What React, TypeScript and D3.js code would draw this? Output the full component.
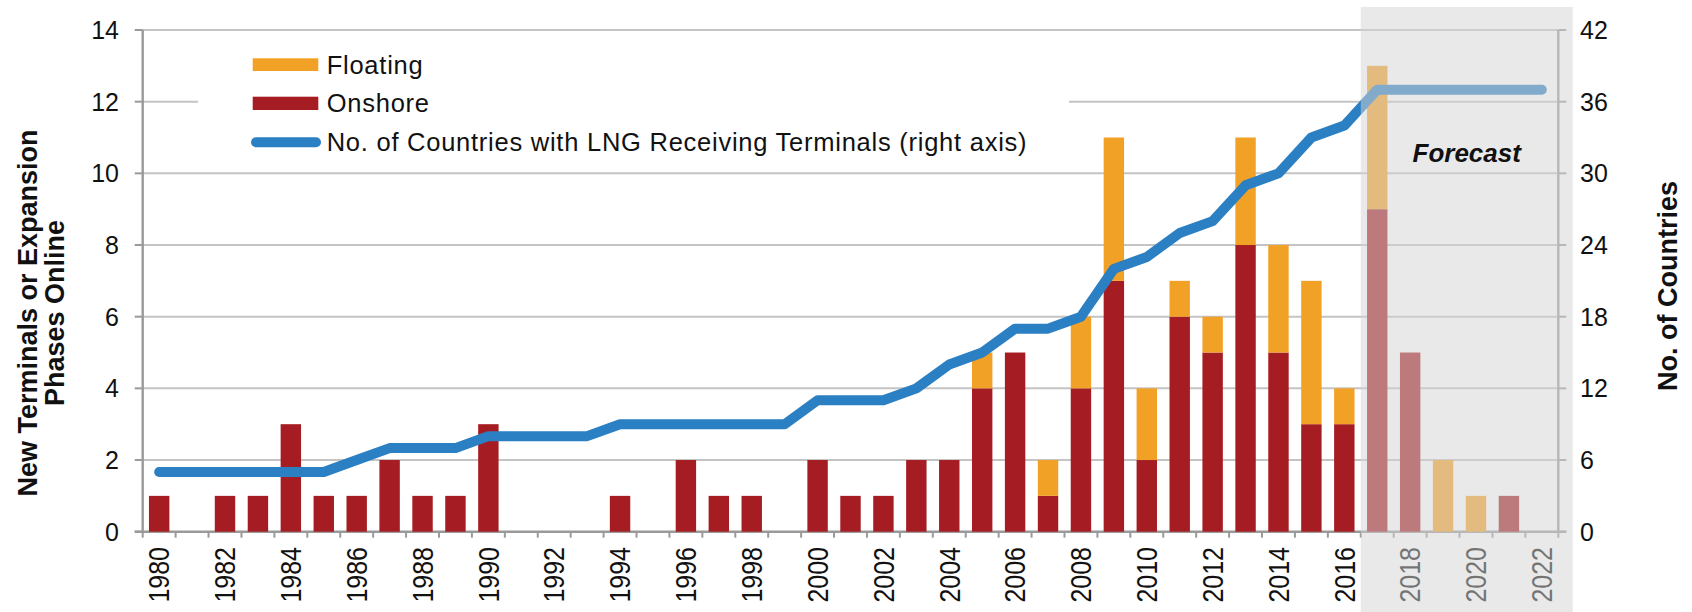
import React from 'react';
import * as d3 from 'd3';

const years = [
  1980, 1981, 1982, 1983, 1984, 1985, 1986, 1987, 1988, 1989,
  1990, 1991, 1992, 1993, 1994, 1995, 1996, 1997, 1998, 1999,
  2000, 2001, 2002, 2003, 2004, 2005, 2006, 2007, 2008, 2009,
  2010, 2011, 2012, 2013, 2014, 2015, 2016, 2017, 2018, 2019,
  2020, 2021, 2022,
];
const onshore = [
  1, 0, 1, 1, 3, 1, 1, 2, 1, 1,
  3, 0, 0, 0, 1, 0, 2, 1, 1, 0,
  2, 1, 1, 2, 2, 4, 5, 1, 4, 7,
  2, 6, 5, 8, 5, 3, 3, 9, 5, 0,
  0, 1, 0,
];
const floating = [
  0, 0, 0, 0, 0, 0, 0, 0, 0, 0,
  0, 0, 0, 0, 0, 0, 0, 0, 0, 0,
  0, 0, 0, 0, 0, 1, 0, 1, 2, 4,
  2, 1, 1, 3, 3, 4, 1, 4, 0, 2,
  1, 0, 0,
];
const countries = [
  5, 5, 5, 5, 5, 5, 6, 7, 7, 7,
  8, 8, 8, 8, 9, 9, 9, 9, 9, 9,
  11, 11, 11, 12, 14, 15, 17, 17, 18, 22,
  23, 25, 26, 29, 30, 33, 34, 37, 37, 37,
  37, 37, 37,
];
const leftTicks = [0, 2, 4, 6, 8, 10, 12, 14];
const rightTicks = [0, 6, 12, 18, 24, 30, 36, 42];
const labelYears = [
  1980, 1982, 1984, 1986, 1988, 1990, 1992, 1994, 1996, 1998, 2000,
  2002, 2004, 2006, 2008, 2010, 2012, 2014, 2016, 2018, 2020, 2022,
];
const forecastStart = 2017;
const legendItems = ['Floating', 'Onshore', 'No. of Countries with LNG Receiving Terminals (right axis)'];

const W = 1692;
const H = 612;
const L = 142.7;
const R = 1558.3;
const T = 30;
const B = 531.7;

const C_ON = '#a51d22';
const C_FL = '#f2a127';
const C_LINE = '#2b7fc3';
const FONT = "'Liberation Sans', Arial, Helvetica, sans-serif";

export default function App() {
  const x = d3
    .scaleBand<number>()
    .domain(years)
    .range([L, R])
    .paddingInner(0.38)
    .paddingOuter(0.19);
  const step = x.step();
  const yL = d3.scaleLinear().domain([0, 14]).range([B, T]);
  const yR = d3.scaleLinear().domain([0, 42]).range([B, T]);
  const cx = (yr: number) => (x(yr) as number) + x.bandwidth() / 2;

  const line = d3
    .line<number>()
    .x((_, i) => cx(years[i]))
    .y((d) => yR(d));

  const shadeX0 = L + years.indexOf(forecastStart) * step;
  const shadeX1 = 1572.7;

  return (
    <svg
      width={W}
      height={H}
      style={{ position: 'absolute', left: 0, top: 0, background: '#fff' }}
      fontFamily={FONT}
    >
      {/* gridlines */}
      {leftTicks
        .filter((t) => t > 0)
        .map((t) => (
          <line key={'g' + t} x1={L} x2={R} y1={yL(t)} y2={yL(t)} stroke="#c4c4c4" strokeWidth={2} />
        ))}
      {/* left axis */}
      <line x1={L} x2={L} y1={T} y2={B} stroke="#9a9a9a" strokeWidth={2.4} />
      {leftTicks.map((t) => (
        <g key={'lt' + t}>
          <line x1={L - 8} x2={L} y1={yL(t)} y2={yL(t)} stroke="#9a9a9a" strokeWidth={2} />
          <text x={119} y={yL(t)} textAnchor="end" dominantBaseline="central" fontSize={25} fill="#111">
            {t}
          </text>
        </g>
      ))}
      {/* right axis */}
      <line x1={R} x2={R} y1={T} y2={B} stroke="#9a9a9a" strokeWidth={2.4} />
      {rightTicks.map((t) => (
        <g key={'rt' + t}>
          <line x1={R} x2={R + 8} y1={yR(t)} y2={yR(t)} stroke="#9a9a9a" strokeWidth={2} />
          <text x={1580} y={yR(t)} textAnchor="start" dominantBaseline="central" fontSize={25} fill="#111">
            {t}
          </text>
        </g>
      ))}
      {/* x axis */}
      <line x1={L - 8} x2={R + 8} y1={B} y2={B} stroke="#9a9a9a" strokeWidth={2.4} />
      {years.concat([years[years.length - 1] + 1]).map((_, i) => (
        <line key={'xt' + i} x1={L + i * step} x2={L + i * step} y1={B} y2={B + 6} stroke="#9a9a9a" strokeWidth={2} />
      ))}
      {labelYears.map((yr) => (
        <text
          key={'xl' + yr}
          transform={`translate(${cx(yr)},547) rotate(-90) scale(1,1.18)`}
          textAnchor="end"
          dominantBaseline="central"
          fontSize={25}
          fill="#111"
        >
          {yr}
        </text>
      ))}
      {/* bars */}
      {years.map((yr, i) => (
        <g key={'b' + yr}>
          {onshore[i] > 0 && (
            <rect x={x(yr)} width={x.bandwidth()} y={yL(onshore[i])} height={yL(0) - yL(onshore[i])} fill={C_ON} />
          )}
          {floating[i] > 0 && (
            <rect
              x={x(yr)}
              width={x.bandwidth()}
              y={yL(onshore[i] + floating[i])}
              height={yL(onshore[i]) - yL(onshore[i] + floating[i])}
              fill={C_FL}
            />
          )}
        </g>
      ))}
      {/* country line */}
      <path d={line(countries) || ''} fill="none" stroke={C_LINE} strokeWidth={10} strokeLinecap="round" strokeLinejoin="round" />
      {/* legend */}
      <rect x={198} y={42} width={871} height={122} fill="#fff" />
      <rect x={252.7} y={58.3} width={65.6} height={12.7} fill={C_FL} />
      <text x={326.7} y={74.3} fontSize={25.5} letterSpacing={0.75} fill="#111">{legendItems[0]}</text>
      <rect x={252.7} y={96.7} width={65.6} height={13.3} fill={C_ON} />
      <text x={326.7} y={111.5} fontSize={25.5} letterSpacing={0.75} fill="#111">{legendItems[1]}</text>
      <line x1={256} x2={316} y1={142.3} y2={142.3} stroke={C_LINE} strokeWidth={10} strokeLinecap="round" />
      <text x={326.7} y={150.5} fontSize={25.5} letterSpacing={0.75} fill="#111">{legendItems[2]}</text>
      {/* axis titles */}
      <text
        transform="translate(36.5,313) rotate(-90)"
        textAnchor="middle"
        fontSize={27}
        fontWeight="bold"
        fill="#111"
      >
        New Terminals or Expansion
      </text>
      <text
        transform="translate(63.5,313) rotate(-90)"
        textAnchor="middle"
        fontSize={27}
        fontWeight="bold"
        fill="#111"
      >
        Phases Online
      </text>
      <text
        transform="translate(1676.5,286) rotate(-90)"
        textAnchor="middle"
        fontSize={27}
        fontWeight="bold"
        fill="#111"
      >
        No. of Countries
      </text>
      {/* forecast overlay */}
      <rect x={shadeX0} y={7} width={shadeX1 - shadeX0} height={H - 7} fill="#d3d3d3" fillOpacity={0.51} />
      <text
        x={(shadeX0 + shadeX1) / 2}
        y={162}
        textAnchor="middle"
        fontSize={26}
        fontWeight="bold"
        fontStyle="italic"
        fill="#111"
      >
        Forecast
      </text>
    </svg>
  );
}
